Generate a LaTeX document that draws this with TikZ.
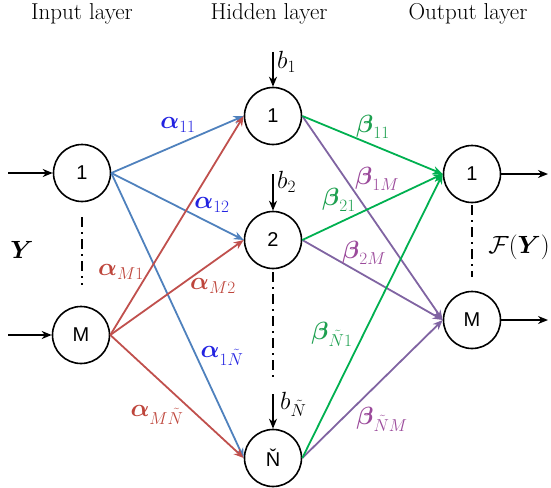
\documentclass[tikz,border=0pt]{standalone}
\usepackage{amsmath,amssymb}
\usepackage{fontspec}
\newfontfamily\nodefont{Liberation Sans}
\usetikzlibrary{arrows.meta}
\definecolor{eblue}{RGB}{79,129,189}
\definecolor{ered}{RGB}{192,80,77}
\definecolor{egreen}{RGB}{0,176,80}
\definecolor{epurple}{RGB}{128,100,162}
\definecolor{lblue}{RGB}{35,35,225}
\definecolor{lred}{RGB}{190,70,60}
\definecolor{lgreen}{RGB}{30,160,80}
\definecolor{lpurple}{RGB}{155,75,155}
\tikzset{
  neuron/.style={circle,draw=black,line width=1.6pt,minimum size=57pt,inner sep=0pt,font=\nodefont\fontsize{20}{22}\selectfont},
  conn/.style={line width=1.8pt,-{Stealth[length=10pt,width=8pt]}},
  blk/.style={line width=1.8pt,-{Stealth[length=10pt,width=8pt]}},
  dd/.style={line width=2.2pt,dash pattern=on 10pt off 5pt on 2pt off 5pt},
  title/.style={font=\fontsize{23}{26}\selectfont},
  wl/.style={font=\fontsize{23}{26}\selectfont,inner sep=0pt},
  bl/.style={font=\fontsize{25}{28}\selectfont,inner sep=0pt},
}
\begin{document}
\begin{tikzpicture}[x=1pt,y=-1pt]
\useasboundingbox (0,0) rectangle (551,487);
% titles
\node[title] (t1) at (82,14) {Input layer};
\node[title] (t2) at (269,14) {Hidden layer};
\node[title] (t3) at (468,14) {Output layer};
% neurons
\node[neuron] (i1) at (82,173) {1};
\node[neuron] (iM) at (81,335) {M};
\node[neuron] (h1) at (273,116) {1};
\node[neuron] (h2) at (273,240) {2};
\node[neuron] (hN) at (273,458) {Ň};
\node[neuron] (o1) at (472,174) {1};
\node[neuron] (oM) at (472,320) {M};
% free ends
\coordinate (ia1) at (8,173);
\coordinate (iaM) at (8,335);
\coordinate (oa1) at (548,174);
\coordinate (oaM) at (548,320);
\coordinate (b1s) at (273,52);
\coordinate (b2s) at (273,174);
\coordinate (bNs) at (273,394);
\coordinate (di1) at (82,217);
\coordinate (di2) at (82,285);
\coordinate (dh1) at (273,272);
\coordinate (dh2) at (273,378);
\coordinate (do1) at (472,205);
\coordinate (do2) at (472,277);
% black arrows
\draw[blk] (ia1) -- (i1.west);
\draw[blk] (iaM) -- (iM.west);
\draw[blk] (o1.east) -- (oa1);
\draw[blk] (oM.east) -- (oaM);
\draw[blk] (b1s) -- (h1.north);
\draw[blk] (b2s) -- (h2.north);
\draw[blk] (bNs) -- (hN.north);
% dash-dot
\draw[dd] (di1) -- (di2);
\draw[dd] (dh1) -- (dh2);
\draw[dd] (do1) -- (do2);
% input to hidden
\draw[conn,eblue] (i1.east) -- (h1.west);
\draw[conn,eblue] (i1.east) -- (h2.west);
\draw[conn,eblue] (i1.east) -- (hN.west);
\draw[conn,ered] (iM.east) -- (h1.west);
\draw[conn,ered] (iM.east) -- (h2.west);
\draw[conn,ered] (iM.east) -- (hN.west);
% hidden to output
\draw[conn,epurple] (h1.east) -- (oM.west);
\draw[conn,epurple] (h2.east) -- (oM.west);
\draw[conn,epurple] (hN.east) -- (oM.west);
\draw[conn,egreen] (h1.east) -- (o1.west);
\draw[conn,egreen] (h2.east) -- (o1.west);
\draw[conn,egreen] (hN.east) -- (o1.west);
% weight labels
\node[wl,lblue] (a11) at (178,125) {$\boldsymbol{\alpha}_{11}$};
\node[wl,lblue] (a12) at (212,205) {$\boldsymbol{\alpha}_{12}$};
\node[wl,lred] (aM1) at (121,272) {$\boldsymbol{\alpha}_{M1}$};
\node[wl,lred] (aM2) at (213,286) {$\boldsymbol{\alpha}_{M2}$};
\node[wl,lblue] (a1N) at (222,356) {$\boldsymbol{\alpha}_{1\tilde{N}}$};
\node[wl,lred] (aMN) at (157,415) {$\boldsymbol{\alpha}_{M\tilde{N}}$};
\node[wl,lgreen] (b11) at (373,127) {$\boldsymbol{\beta}_{11}$};
\node[wl,lpurple] (b1M) at (377,179) {$\boldsymbol{\beta}_{1M}$};
\node[wl,lgreen] (b21) at (339,200) {$\boldsymbol{\beta}_{21}$};
\node[wl,lpurple] (b2M) at (364,253) {$\boldsymbol{\beta}_{2M}$};
\node[wl,lgreen] (bN1) at (332,334) {$\boldsymbol{\beta}_{\tilde{N}1}$};
\node[wl,lpurple] (bNM) at (382,419) {$\boldsymbol{\beta}_{\tilde{N}M}$};
% bias labels
\node[bl,anchor=west] (lb1) at (277,62) {$b_1$};
\node[bl,anchor=west] (lb2) at (277,182) {$b_2$};
\node[bl,anchor=west] (lbN) at (280,404) {$b_{\tilde{N}}$};
% Y and F(Y)
\node[font=\fontsize{27}{30}\selectfont,inner sep=0pt] (Y) at (22,250) {$\boldsymbol{Y}$};
\node[bl] (FY) at (519,247) {$\mathcal{F}(\boldsymbol{Y})$};
\end{tikzpicture}
\end{document}
